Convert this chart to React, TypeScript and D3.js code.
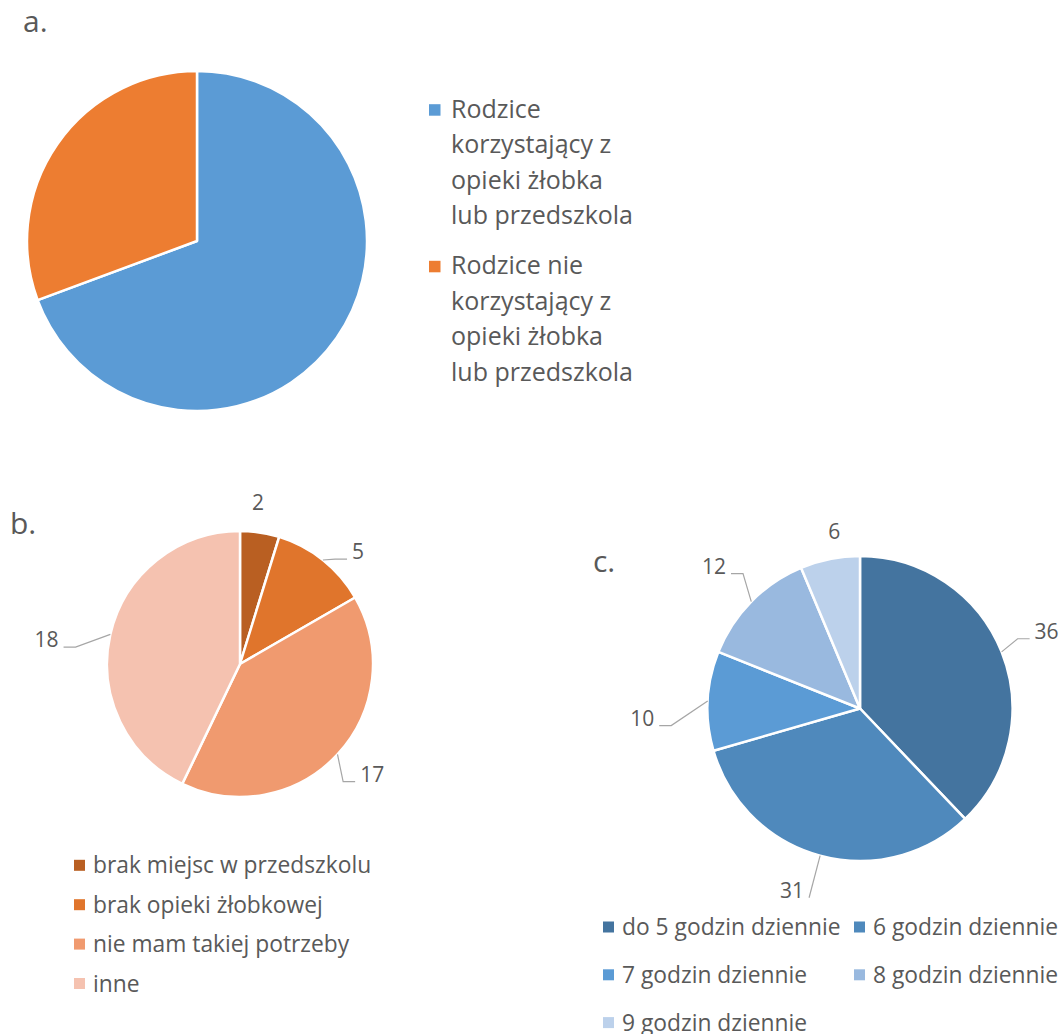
import React from 'react';
import * as d3 from 'd3';

// a. parents using / not using nursery or preschool care
const parentLegend = [
  ['Rodzice', 'korzystający z', 'opieki żłobka', 'lub przedszkola'],
  ['Rodzice nie', 'korzystający z', 'opieki żłobka', 'lub przedszkola'],
];
const parentValues = [95, 42];
const parentColors = ['#5B9BD5', '#ED7D31'];

// b. reasons for not using care
const reasonLabels = ['brak miejsc w przedszkolu', 'brak opieki żłobkowej', 'nie mam takiej potrzeby', 'inne'];
const reasonValues = [2, 5, 17, 18];
const reasonColors = ['#B95F22', '#E0752C', '#F09A6F', '#F5C2B0'];
// label placement around the pie (angle in degrees, distance from centre)
const reasonLabelAngle = [6.3, 46.4, 129.8, 277.2];
const reasonLabelDist = [163, 163, 172, 195];

// c. hours per day in care
const hoursLabels = ['do 5 godzin dziennie', '6 godzin dziennie', '7 godzin dziennie', '8 godzin dziennie', '9 godzin dziennie'];
const hoursValues = [36, 31, 10, 12, 6];
const hoursColors = ['#44749F', '#4F89BC', '#5B9BD5', '#99B9DF', '#BCD1EB'];
const hoursLabelAngle = [67.5, 200.5, 267.5, 314.3, 351.7];
const hoursLabelDist = [202, 194, 218, 204, 179];

const FONT = '"Open Sans", "Noto Sans", sans-serif';
const TEXT = '#595959';
const LEADER = '#A6A6A6';

type PieOpts = {
  cx: number;
  cy: number;
  r: number;
  values: number[];
  colors: string[];
  labelAngle?: number[];
  labelDist?: number[];
};

function drawPie(svg: d3.Selection<SVGSVGElement, unknown, null, undefined>, o: PieOpts) {
  const pie = d3.pie<number>().sort(null).value(d => d);
  const arcs = pie(o.values);
  const arc = d3.arc<d3.PieArcDatum<number>>().innerRadius(0).outerRadius(o.r);

  const g = svg.append('g').attr('transform', `translate(${o.cx},${o.cy})`);
  g.selectAll('path')
    .data(arcs)
    .enter().append('path')
    .attr('d', arc)
    .attr('fill', (d, i) => o.colors[i])
    .attr('stroke', '#fff')
    .attr('stroke-width', 2.5)
    .attr('stroke-linejoin', 'round');

  if (!o.labelAngle || !o.labelDist) return;

  arcs.forEach((d, i) => {
    const la = (o.labelAngle![i] * Math.PI) / 180;
    const lx = o.labelDist![i] * Math.sin(la);
    const ly = -o.labelDist![i] * Math.cos(la);
    const text = g.append('text')
      .attr('x', lx)
      .attr('y', ly)
      .attr('dy', '0.36em')
      .attr('text-anchor', 'middle')
      .attr('font-family', FONT)
      .attr('font-size', 21)
      .attr('fill', TEXT)
      .text(String(d.value));

    // labels sitting right above/below the slice get no leader line
    const side = Math.sin(la);
    if (Math.abs(side) < 0.25) return;
    const half = (text.node() as SVGTextElement).getComputedTextLength() / 2;
    const mid = (d.startAngle + d.endAngle) / 2;
    const ex = o.r * Math.sin(mid);
    const ey = -o.r * Math.cos(mid);
    const baseY = ly + 0.36 * 21;
    const dir = side > 0 ? 1 : -1;
    const hx0 = lx - dir * (half + 5);
    const hLen = Math.abs(Math.cos(la)) > 0.9 ? 0 : 12;
    const hx1 = hx0 - dir * hLen;
    const line = d3.line();
    g.append('path')
      .attr('d', line([[ex, ey], [hx1, baseY], [hx0, baseY]]))
      .attr('fill', 'none')
      .attr('stroke', LEADER)
      .attr('stroke-width', 1.2);
  });
}

const App: React.FC = () => {
  const svgRef = React.useRef<SVGSVGElement>(null);

  React.useEffect(() => {
    if (!svgRef.current) return;
    const svg = d3.select(svgRef.current);
    svg.selectAll('*').remove();

    // panel letters
    const letters: [string, number, number][] = [['a.', 23, 32], ['b.', 10, 534], ['c.', 593, 572]];
    svg.selectAll('text.letter')
      .data(letters)
      .enter().append('text')
      .attr('class', 'letter')
      .attr('x', d => d[1])
      .attr('y', d => d[2])
      .attr('font-family', FONT)
      .attr('font-size', 30)
      .attr('fill', TEXT)
      .text(d => d[0]);

    // ---- a.
    drawPie(svg, { cx: 197, cy: 241, r: 170, values: parentValues, colors: parentColors });
    const legA = svg.append('g').attr('font-family', FONT).attr('font-size', 25).attr('fill', TEXT);
    parentLegend.forEach((lines, i) => {
      const y0 = 117.7 + i * 156.6;
      legA.append('rect')
        .attr('x', 429).attr('y', y0 - 13.5)
        .attr('width', 11.5).attr('height', 11.5)
        .attr('fill', parentColors[i]);
      lines.forEach((ln, j) => {
        legA.append('text').attr('x', 451).attr('y', y0 + j * 35.5).text(ln);
      });
    });

    // ---- b.
    drawPie(svg, {
      cx: 240, cy: 664, r: 133,
      values: reasonValues, colors: reasonColors,
      labelAngle: reasonLabelAngle, labelDist: reasonLabelDist,
    });
    const legB = svg.append('g').attr('font-family', FONT).attr('font-size', 22.8).attr('fill', TEXT);
    reasonLabels.forEach((lab, i) => {
      const cy = 865.3 + i * 39.4;
      legB.append('rect')
        .attr('x', 74).attr('y', cy - 5.5)
        .attr('width', 11).attr('height', 11)
        .attr('fill', reasonColors[i]);
      legB.append('text').attr('x', 93).attr('y', cy + 8).text(lab);
    });

    // ---- c.
    drawPie(svg, {
      cx: 860, cy: 708.5, r: 152.5,
      values: hoursValues, colors: hoursColors,
      labelAngle: hoursLabelAngle, labelDist: hoursLabelDist,
    });
    const legC = svg.append('g').attr('font-family', FONT).attr('font-size', 22.8).attr('fill', TEXT);
    hoursLabels.forEach((lab, i) => {
      const col = i % 2;
      const row = Math.floor(i / 2);
      const x = col === 0 ? 603 : 854;
      const cy = 927 + row * 47.8;
      legC.append('rect')
        .attr('x', x).attr('y', cy - 5.5)
        .attr('width', 11).attr('height', 11)
        .attr('fill', hoursColors[i]);
      legC.append('text').attr('x', x + 19).attr('y', cy + 8).text(lab);
    });
  }, []);

  return (
    <svg
      ref={svgRef}
      width={1062}
      height={1034}
      viewBox="0 0 1062 1034"
      style={{ position: 'absolute', left: 0, top: 0, background: '#fff' }}
    />
  );
};

export default App;
